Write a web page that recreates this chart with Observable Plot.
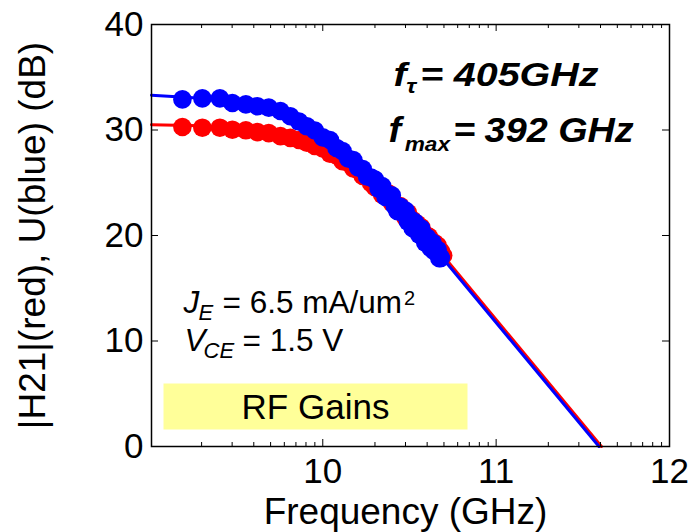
<!DOCTYPE html>
<html><head><meta charset="utf-8">
<script src="https://cdn.jsdelivr.net/npm/d3@7"></script>
<script src="https://cdn.jsdelivr.net/npm/@observablehq/plot@0.6"></script>
<style>
body{margin:0;background:#fff;}
#chart svg{display:block;}
</style></head>
<body><div id="chart"></div>
<script>
// measured points (GHz, dB)
const h21FreqGHz = [1.55, 2.02, 2.55, 3.01, 3.6, 4.2, 4.88, 5.7, 6.5, 7.3, 8.1, 9, 10, 11, 12, 13, 14, 15, 16, 17, 18, 19, 20, 21, 22, 23, 24, 25, 26, 27, 28, 29, 30, 31, 32, 33, 34, 35, 36, 37, 38, 39, 40, 41, 42, 43, 44, 45, 46, 47, 48, 49.5];
const h21dB = [30.28, 30.22, 30.22, 30.03, 29.97, 29.8, 29.7, 29.42, 29.25, 29.05, 28.8, 28.5, 28.25, 27.75, 27.6, 27.05, 26.9, 26.35, 26.2, 25.65, 25.55, 24.95, 24.58, 24.77, 23.87, 24.07, 23.98, 23.1, 23.02, 22.35, 22.79, 22.33, 21.68, 22.14, 21.4, 21.46, 20.73, 21.11, 20.39, 20.78, 20.17, 19.66, 19.96, 19.87, 19.18, 19.29, 19.3, 18.72, 19.04, 18.47, 18.5, 18.1];
const uFreqGHz = [1.55, 2.02, 2.55, 3.01, 3.6, 4.2, 4.88, 5.7, 6.5, 7.3, 8.1, 9, 10, 11, 12, 13, 14, 15, 16, 17, 18, 19, 20, 21, 22, 23, 24, 25, 26, 27, 28, 29, 30, 31, 32, 33, 34, 35, 36, 37, 38, 39, 40, 41, 42, 43, 44, 45, 46, 47, 48];
const uDB = [32.9, 33.0, 33.0, 32.56, 32.43, 32.25, 32.12, 31.8, 31.3, 30.8, 30.35, 29.95, 29.3, 29.05, 28.3, 28.0, 27.3, 27.15, 26.45, 26.3, 25.6, 25.5, 25.3, 24.44, 24.69, 23.65, 23.72, 23.81, 22.8, 22.3, 22.71, 22.13, 22.36, 21.3, 21.54, 20.69, 21.25, 20.71, 20.08, 20.65, 19.83, 19.32, 19.81, 19.5, 18.8, 19.3, 18.51, 18.62, 18.64, 17.86, 17.88];
// fitted lines (GHz, dB)
const h21LineGHz = [1.028, 2, 5, 10, 20, 50, 405];
const h21LineDB = [30.5, 30.4, 29.8, 28.2, 24.8, 18.0, 0];
const uLineGHz = [1.028, 2, 5, 10, 20, 50, 392];
const uLineDB = [33.3, 33.0, 31.9, 29.4, 25.0, 17.7, 0];
// axes
const xDomainHz = [1.028e9, 1e12];
const xTicksHz = [1e10, 1e11, 1e12];
const xTickLabels = ["10", "11", "12"];
const yTicks = [0, 10, 20, 30, 40];
const yTickLabels = ["0", "10", "20", "30", "40"];

const W = 691, H = 532, ML = 151, MR = 22, MT = 24, MB = 86;
const FW = W - ML - MR, FH = H - MT - MB;

const h21 = h21FreqGHz.map((f, i) => ({hz: f * 1e9, db: h21dB[i]}));
const u = uFreqGHz.map((f, i) => ({hz: f * 1e9, db: uDB[i]}));
const h21Line = h21LineGHz.map((f, i) => ({hz: f * 1e9, db: h21LineDB[i]}));
const uLine = uLineGHz.map((f, i) => ({hz: f * 1e9, db: uLineDB[i]}));

const minorHz = [];
for (const e of [9, 10, 11]) for (let k = 2; k <= 9; k++) minorHz.push(k * 10 ** e);
const majorHz = [1e10, 1e11];
const yInner = [10, 20, 30];

const font = "Liberation Sans, Arial, sans-serif";

const chart = Plot.plot({
  width: W, height: H,
  marginLeft: ML, marginRight: MR, marginTop: MT, marginBottom: MB,
  style: {fontFamily: font, background: "#fff", color: "#000"},
  x: {type: "log", domain: xDomainHz, axis: null},
  y: {domain: [0, 40], axis: null},
  marks: [
    Plot.frame({fill: "#ffff99", stroke: null, insetLeft: 12, insetRight: FW - 316, insetTop: 359, insetBottom: 17}),
    Plot.text(["RF Gains"], {frameAnchor: "top-left", dx: 164, dy: 394, textAnchor: "middle", lineAnchor: "bottom", fontSize: 35, fill: "#000"}),
    Plot.line(h21Line, {x: "hz", y: "db", stroke: "#ff0000", strokeWidth: 3}),
    Plot.line(uLine, {x: "hz", y: "db", stroke: "#0000ff", strokeWidth: 3}),
    Plot.dot(h21, {x: "hz", y: "db", r: 9.3, fill: "#ff0000", stroke: null}),
    Plot.dot(u, {x: "hz", y: "db", r: 9.3, fill: "#0000ff", stroke: null}),
    // inward ticks
    Plot.ruleX(majorHz, {x: d => d, insetTop: FH - 7, stroke: "#000", strokeWidth: 1}),
    Plot.ruleX(majorHz, {x: d => d, insetBottom: FH - 7, stroke: "#000", strokeWidth: 1}),
    Plot.ruleX(minorHz, {x: d => d, insetTop: FH - 4, stroke: "#000", strokeWidth: 1}),
    Plot.ruleX(minorHz, {x: d => d, insetBottom: FH - 4, stroke: "#000", strokeWidth: 1}),
    Plot.ruleY(yInner, {y: d => d, insetRight: FW - 7, stroke: "#000", strokeWidth: 1}),
    Plot.ruleY(yInner, {y: d => d, insetLeft: FW - 7, stroke: "#000", strokeWidth: 1}),
    Plot.frame({stroke: "#000", strokeWidth: 1.5}),
    // tick labels
    Plot.text(xTicksHz, {x: d => d, frameAnchor: "bottom", dy: 12, lineAnchor: "top", text: (d, i) => xTickLabels[i], fontSize: 35, fill: "#000"}),
    Plot.text(yTicks, {y: d => d, frameAnchor: "left", dx: -8, textAnchor: "end", text: (d, i) => yTickLabels[i], fontSize: 35, fill: "#000"}),
    // axis labels
    Plot.text(["Frequency (GHz)"], {frameAnchor: "bottom", dx: -5, dy: 51, lineAnchor: "top", fontSize: 37, fill: "#000"}),
    Plot.text(["|H21|(red), U(blue) (dB)"], {frameAnchor: "left", dx: -118, rotate: -90, textAnchor: "middle", lineAnchor: "middle", fontSize: 37, fill: "#000"}),
    // annotations
    Plot.text(["fτ= 405GHz"], {frameAnchor: "top-left", dx: 242, dy: 61, textAnchor: "start", lineAnchor: "bottom", fontSize: 34, fontWeight: "bold", fontStyle: "italic", fill: "#000"}),
    Plot.text(["fmax = 392 GHz"], {frameAnchor: "top-left", dx: 237, dy: 117, textAnchor: "start", lineAnchor: "bottom", fontSize: 35, fontWeight: "bold", fontStyle: "italic", fill: "#000"}),
    Plot.text(["JE = 6.5 mA/um2"], {frameAnchor: "top-left", dx: 32, dy: 288, textAnchor: "start", lineAnchor: "bottom", fontSize: 31.5, fill: "#000"}),
    Plot.text(["VCE = 1.5 V"], {frameAnchor: "top-left", dx: 33, dy: 326, textAnchor: "start", lineAnchor: "bottom", fontSize: 31.5, fill: "#000"})
  ]
});

const NS = "http://www.w3.org/2000/svg";
function rich(svg, key, segs, sx) {
  svg.querySelectorAll("text").forEach(t => {
    if (t.textContent !== key) return;
    while (t.firstChild) t.removeChild(t.firstChild);
    let shift = 0;
    for (const s of segs) {
      const ts = document.createElementNS(NS, "tspan");
      ts.textContent = s.t;
      const target = s.dy || 0;
      ts.setAttribute("dy", target - shift);
      shift = target;
      if (s.x != null) ts.setAttribute("x", s.x);
      if (s.dx != null) ts.setAttribute("dx", s.dx);
      if (s.size) ts.setAttribute("font-size", s.size);
      if (s.style) ts.setAttribute("font-style", s.style);
      t.appendChild(ts);
    }
    if (sx) {
      const tr = t.getAttribute("transform") || "";
      t.setAttribute("transform", tr + ` scale(${sx},1)`);
    }
  });
}
const svg = chart.tagName.toLowerCase() === "svg" ? chart : chart.querySelector("svg");
rich(svg, "fτ= 405GHz", [{t: "f", x: 0}, {t: "τ", x: 11, dy: 7, size: 21}, {t: "=", x: 23}, {t: "405GHz", x: 52}], 1.16);
rich(svg, "fmax = 392 GHz", [{t: "f", x: 0}, {t: "max", x: 15, dy: 9, size: 21}, {t: "=", x: 60}, {t: "392 GHz", x: 89}], 1.08);
rich(svg, "JE = 6.5 mA/um2", [{t: "J", x: 0, style: "italic"}, {t: "E", x: 15, dy: 7, size: 22, style: "italic"}, {t: "= 6.5 mA/um", x: 39}, {t: "2", dx: 2, dy: -8, size: 20}]);
rich(svg, "VCE = 1.5 V", [{t: "V", x: 0, style: "italic"}, {t: "CE", x: 19, dy: 7, size: 22, style: "italic"}, {t: "= 1.5 V", x: 58}]);

document.getElementById("chart").appendChild(chart);
</script>
</body></html>
